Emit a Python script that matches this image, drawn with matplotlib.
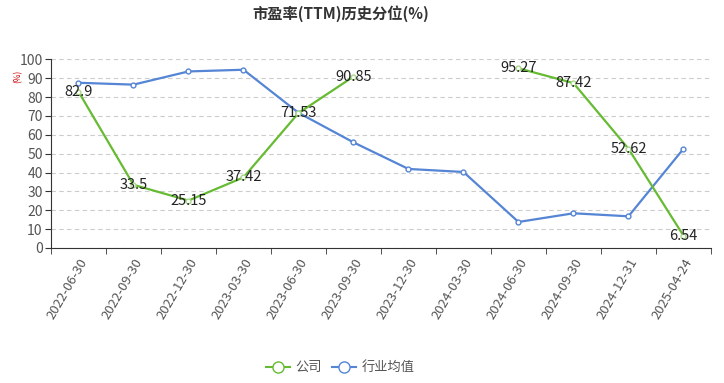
import matplotlib
matplotlib.use('Agg')
import matplotlib.pyplot as plt
import numpy as np

plt.rcParams['font.family'] = ['Noto Sans CJK SC', 'DejaVu Sans']

# 数据
dates = ['2022-06-30', '2022-09-30', '2022-12-30', '2023-03-30', '2023-06-30', '2023-09-30',
         '2023-12-30', '2024-03-30', '2024-06-30', '2024-09-30', '2024-12-31', '2025-04-24']
company = [82.9, 33.5, 25.15, 37.42, 71.53, 90.85, np.nan, np.nan, 95.27, 87.42, 52.62, 6.54]
industry = [87.6, 86.6, 93.6, 94.5, 71.7, 56.0, 41.9, 40.3, 13.8, 18.4, 16.8, 52.6]

green = '#66bb33'
blue = '#5585d4'

fig = plt.figure(figsize=(7.24, 3.83), dpi=100)
ax = fig.add_axes([0.0704, 0.3525, 0.9116, 0.4925])

x = np.arange(len(dates))
ax.plot(x, industry, color=blue, linewidth=1.6, marker='o', markersize=3.5,
        markerfacecolor='white', markeredgecolor=blue, markeredgewidth=1, zorder=3)
ax.plot(x, company, color=green, linewidth=1.6, marker='o', markersize=3.5,
        markerfacecolor='white', markeredgecolor='#a8d88a', markeredgewidth=1, zorder=4)

# 数值标注
for xi, v in zip(x, company):
    if not np.isnan(v):
        ax.text(xi, v, f'{v:g}', ha='center', va='center', fontsize=10.5, color='#222222', zorder=5)

ax.set_xlim(-0.5, len(dates) - 0.5)
ax.set_ylim(0, 100)
ax.set_yticks(np.arange(0, 101, 10))
ax.set_xticks(x)
ax.set_xticklabels(dates, rotation=60, ha='right', rotation_mode='anchor', fontsize=9.5, color='#555555')
ax.set_xticks(np.arange(-0.5, len(dates), 1), minor=True)
ax.tick_params(axis='x', which='major', length=0, pad=6)
ax.tick_params(axis='x', which='minor', length=4, color='#333333', direction='out')
ax.tick_params(axis='y', length=4, color='#333333', labelsize=10, labelcolor='#555555', pad=2)

ax.grid(axis='y', linestyle=(0, (4, 3)), color='#cccccc', linewidth=0.8)
ax.set_axisbelow(True)
for s in ['top', 'right']:
    ax.spines[s].set_visible(False)
ax.spines['left'].set_color('#333333')
ax.spines['bottom'].set_color('#333333')

fig.text(0.025, 0.80, '(%)', rotation=90, color='#cc0000', fontsize=6, ha='center', va='center')
fig.text(0.47, 0.965, '市盈率(TTM)历史分位(%)', ha='center', va='center', fontsize=11,
         fontweight='bold', color='#333333')

# 图例
lg = fig.legend(handles=[
    plt.Line2D([], [], color=green, marker='o', markersize=8, markerfacecolor='white',
               markeredgecolor=green, linewidth=1.5, label='公司'),
    plt.Line2D([], [], color=blue, marker='o', markersize=8, markerfacecolor='white',
               markeredgecolor=blue, linewidth=1.5, label='行业均值')],
    loc='center', bbox_to_anchor=(0.47, 0.04), ncol=2, frameon=False, fontsize=9.5,
    handlelength=1.8, columnspacing=0.8, handletextpad=0.4)
for t in lg.get_texts():
    t.set_color('#555555')

fig.savefig('out.png', dpi=100)
